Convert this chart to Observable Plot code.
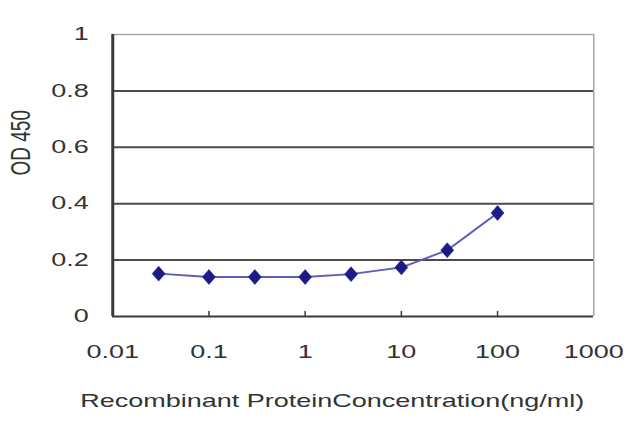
<!DOCTYPE html>
<html>
<head>
<meta charset="utf-8">
<script src="https://cdn.jsdelivr.net/npm/d3@7"></script>
<script src="https://cdn.jsdelivr.net/npm/@observablehq/plot@0.6"></script>
<style>
  html, body { margin: 0; padding: 0; background: #fff; }
  #chart { width: 640px; height: 427px; overflow: hidden; }
</style>
</head>
<body>
<div id="chart"></div>
<script>
// concentration (ng/ml) and OD 450 readings
const concentration = [0.03, 0.1, 0.3, 1, 3, 10, 30, 100];
const od450 = [0.152, 0.14, 0.14, 0.14, 0.15, 0.174, 0.235, 0.367];

// axis ticks
const xTicks = [0.01, 0.1, 1, 10, 100, 1000];
const xInnerTicks = [0.1, 1, 10, 100];
const yTicks = [0, 0.2, 0.4, 0.6, 0.8, 1];
const yGrid = [0.2, 0.4, 0.6, 0.8];

const xTitle = "Recombinant ProteinConcentration(ng/ml)";
const yTitle = "OD 450";

const points = concentration.map((c, i) => ({conc: c, od: od450[i]}));

// the source picture is stretched sideways, so draw narrow and widen the svg
const stretch = 1.5;
const W = 640 / stretch;

const chart = Plot.plot({
  width: W,
  height: 427,
  marginLeft: 112 / stretch,
  marginRight: 47 / stretch,
  marginTop: 34,
  marginBottom: 111,
  style: {fontFamily: "Liberation Sans, Arial, sans-serif", fontSize: "18px", color: "#333", background: "#fff"},
  x: {type: "log", domain: [0.01, 1000]},
  y: {domain: [0, 1]},
  marks: [
    Plot.ruleY(yGrid, {stroke: "#4a4a4a", strokeWidth: 2}),
    Plot.ruleY([1], {stroke: "#a8a8a8", strokeWidth: 1.5}),
    Plot.ruleX([1000], {stroke: "#a8a8a8", strokeWidth: 1}),
    Plot.ruleY([0], {stroke: "#3a3a3a", strokeWidth: 2}),
    Plot.ruleX([0.01], {stroke: "#3a3a3a", strokeWidth: 2}),
    Plot.axisX({ticks: xInnerTicks, tickSize: -5, tickFormat: () => "", label: null, stroke: "#3a3a3a"}),
    Plot.axisX({ticks: xTicks, tickSize: 0, tickPadding: 29, tickFormat: d => String(d), label: null, fill: "#333"}),
    Plot.axisY({ticks: yTicks, tickSize: 0, tickPadding: 16, tickFormat: d => String(d), label: null, fill: "#333"}),
    Plot.line(points, {x: "conc", y: "od", stroke: "#5d5dbb", strokeWidth: 1.8}),
    Plot.dot(points, {x: "conc", y: "od", symbol: "diamond", r: 4.5, fill: "#1c1c86", stroke: "#1c1c86", strokeWidth: 0.5}),
    Plot.text([xTitle], {frameAnchor: "bottom", dx: -14, dy: 90, fill: "#333", fontSize: 18}),
    Plot.text([yTitle], {frameAnchor: "left", dx: -61, rotate: -90, fill: "#333", fontSize: 19})
  ]
});

// widen the drawing to the full 640 px like the reference
chart.setAttribute("width", 640);
chart.setAttribute("height", 427);
chart.setAttribute("preserveAspectRatio", "none");
chart.style.maxWidth = "none";
chart.style.width = "640px";
chart.style.height = "427px";

document.querySelector("#chart").append(chart);
</script>
</body>
</html>
